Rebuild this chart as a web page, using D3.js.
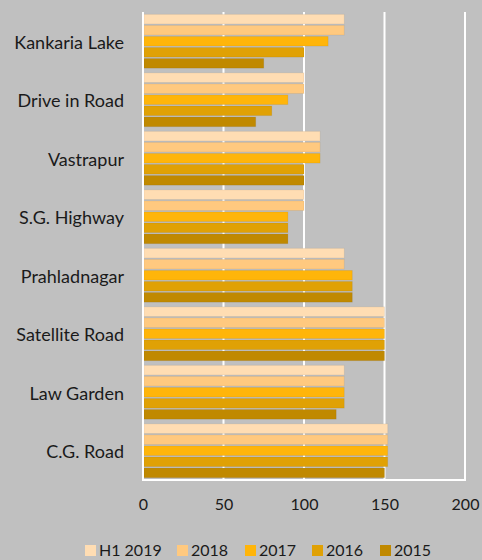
<!DOCTYPE html>
<html><head><meta charset="utf-8">
<script src="https://cdn.jsdelivr.net/npm/d3@7"></script>
<style>
html,body{margin:0;padding:0;background:#c0c0c0;}
svg{display:block;}
text{font-family:"Lato","Open Sans",sans-serif;fill:#1a1a1a;}
</style></head>
<body>
<script>
const categories = ["Kankaria Lake","Drive in Road","Vastrapur","S.G. Highway","Prahladnagar","Satellite Road","Law Garden","C.G. Road"];
const seriesNames = ["H1 2019","2018","2017","2016","2015"];
const seriesColors = ["#ffddb3","#ffc97f","#ffb50a","#e0a105","#c08900"];
const valuesH12019 = [125,100,110,100,125,150,125,152];
const values2018   = [125,100,110,100,125,150,125,152];
const values2017   = [115, 90,110, 90,130,150,125,152];
const values2016   = [100, 80,100, 90,130,150,125,152];
const values2015   = [ 75, 70,100, 90,130,150,120,150];
const xTicks = [0,50,100,150,200];
const allSeries = [valuesH12019, values2018, values2017, values2016, values2015];

const W = 482, H = 560;
const mLeft = 143, mRight = 465, mTop = 12, mBottom = 480;

const svg = d3.select("body").append("svg").attr("width", W).attr("height", H);
svg.append("rect").attr("width", W).attr("height", H).attr("fill", "#c0c0c0");

const x = d3.scaleLinear().domain([0,200]).range([mLeft, mRight]);
const y = d3.scaleBand().domain(categories).range([mTop, mBottom]).paddingInner(0.08).paddingOuter(0.04);
const yInner = d3.scaleBand().domain(seriesNames).range([0, y.bandwidth()]).paddingInner(0.13);

// gridlines
svg.append("g").selectAll("line").data(xTicks).join("line")
  .attr("x1", d => x(d)).attr("x2", d => x(d))
  .attr("y1", mTop).attr("y2", mBottom)
  .attr("stroke", "#ffffff").attr("stroke-width", 2);

// bars
const rows = [];
categories.forEach((c, i) => {
  seriesNames.forEach((s, j) => rows.push({c, s, v: allSeries[j][i], color: seriesColors[j]}));
});
svg.append("g").selectAll("rect").data(rows).join("rect")
  .attr("x", x(0) + 1)
  .attr("y", d => y(d.c) + yInner(d.s))
  .attr("width", d => x(d.v) - x(0) - 1)
  .attr("height", yInner.bandwidth())
  .attr("fill", d => d.color)
  .attr("stroke", "rgba(0,0,0,0.06)").attr("stroke-width", 1);

// frame left & bottom
svg.append("line").attr("x1", mLeft).attr("x2", mLeft).attr("y1", mTop).attr("y2", mBottom + 1)
  .attr("stroke", "#fff").attr("stroke-width", 2);
svg.append("line").attr("x1", mLeft - 1).attr("x2", mRight + 1).attr("y1", mBottom).attr("y2", mBottom)
  .attr("stroke", "#fff").attr("stroke-width", 2);

// x axis labels
const xAxis = d3.axisBottom(x).tickValues(xTicks).tickSize(0).tickPadding(0);
const gx = svg.append("g").attr("transform", `translate(0,${mBottom + 19})`).call(xAxis);
gx.select(".domain").remove();
gx.selectAll("text").style("font-size", "16px").style("font-family", "Lato, 'Open Sans', sans-serif").attr("fill", "#1a1a1a");

// y axis labels
const yAxis = d3.axisLeft(y).tickSize(0).tickPadding(0);
const gy = svg.append("g").attr("transform", `translate(${124},1.5)`).call(yAxis);
gy.select(".domain").remove();
gy.selectAll("text").style("font-size", "18px").style("font-family", "Lato, 'Open Sans', sans-serif").attr("fill", "#1a1a1a");

// legend
const legendX = [85, 177, 245, 312, 380];
const lg = svg.append("g").selectAll("g").data(seriesNames).join("g")
  .attr("transform", (d, i) => `translate(${legendX[i]},545)`);
lg.append("rect").attr("width", 11).attr("height", 11).attr("fill", (d, i) => seriesColors[i]);
lg.append("text").attr("x", 14).attr("y", 11).style("font-size", "16px").text(d => d);
</script>
</body></html>
